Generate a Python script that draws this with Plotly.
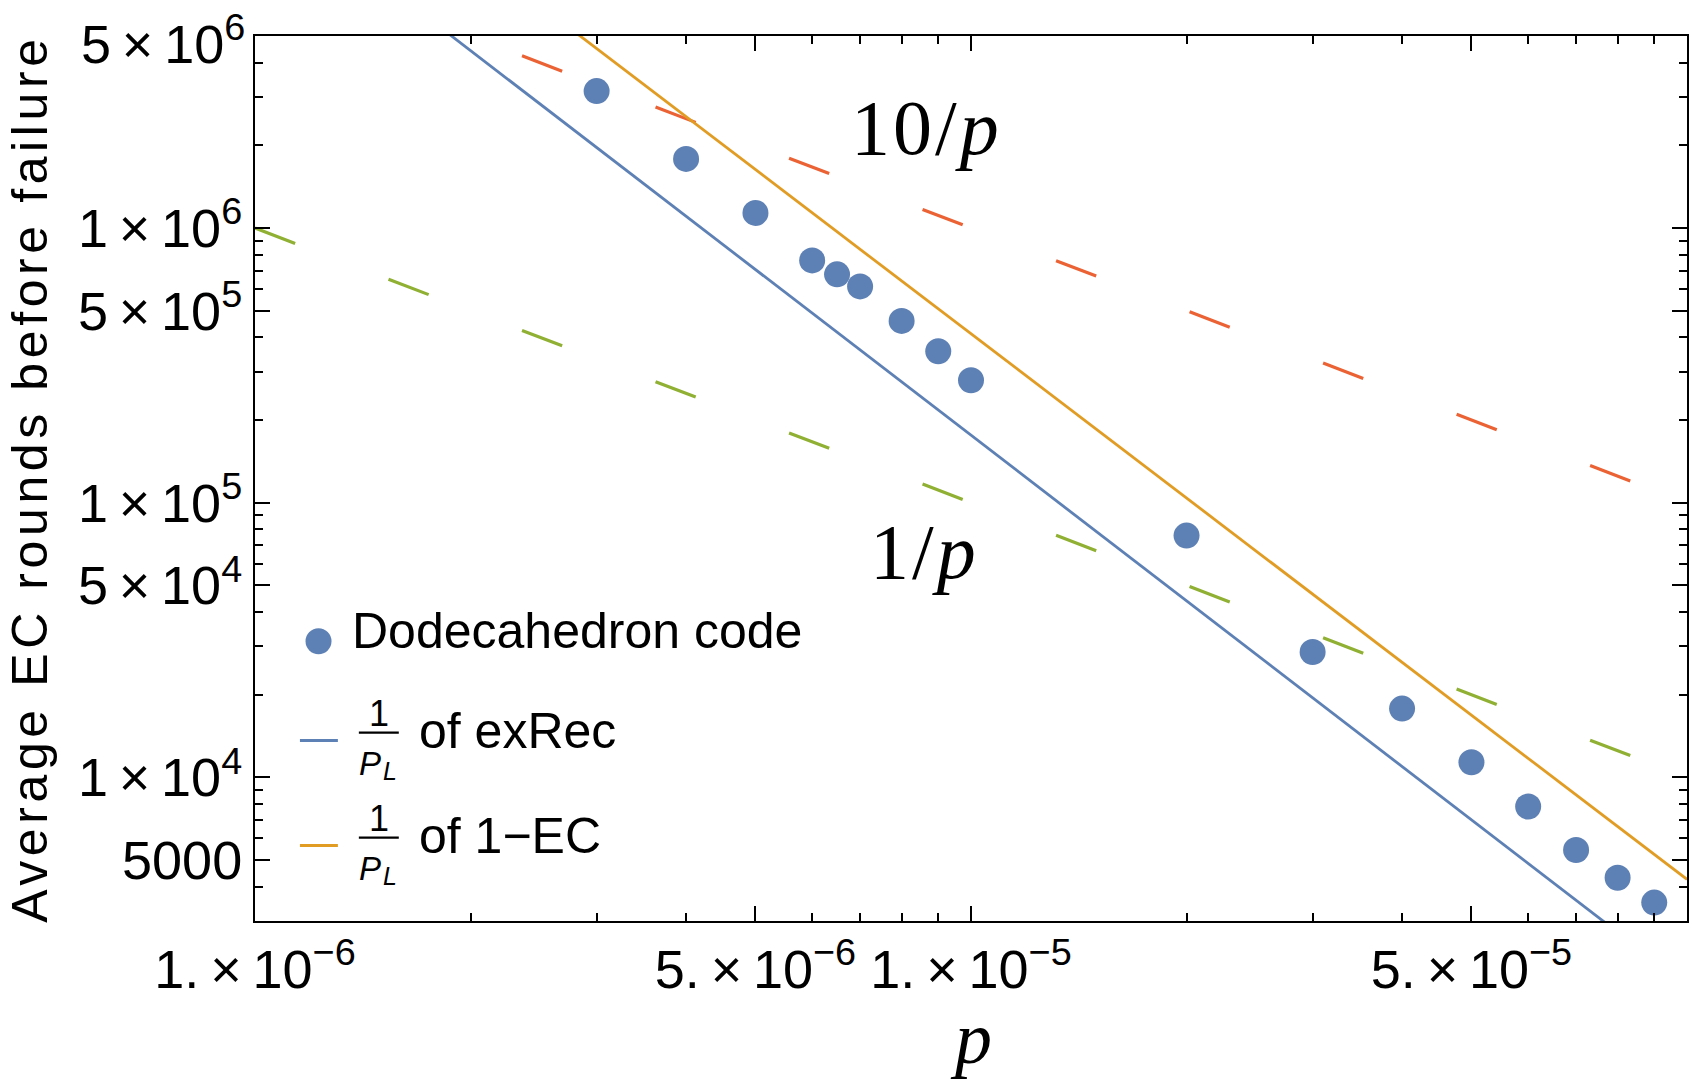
import plotly.graph_objects as go
import math

# ---------------- data ----------------
p_vals = [3e-6, 4e-6, 5e-6, 6e-6, 6.5e-6, 7e-6, 8e-6, 9e-6, 1e-5,
          2e-5, 3e-5, 4e-5, 5e-5, 6e-5, 7e-5, 8e-5, 9e-5]
rounds = [3.15e6, 1.785e6, 1.135e6, 7.62e5, 6.78e5, 6.13e5, 4.59e5, 3.56e5, 2.79e5,
          7.59e4, 2.86e4, 1.78e4, 1.135e4, 7.83e3, 5.44e3, 4.31e3, 3.50e3]

# straight reference lines (log-log), endpoints
p_line = [1e-6, 1e-4]
exrec_line = [1.774e7, 1747]      # 1/P_L of exRec
ec1_line = [3.99e7, 4253]         # 1/P_L of 1-EC
ten_over_p = [1e7, 1e5]           # 10/p
one_over_p = [1e6, 1e4]           # 1/p

# axis ticks
x_major = [1e-6, 5e-6, 1e-5, 5e-5]
x_major_text = ["1.\u2009×\u200910<sup>\u22126</sup>", "5.\u2009×\u200910<sup>\u22126</sup>",
                "1.\u2009×\u200910<sup>\u22125</sup>", "5.\u2009×\u200910<sup>\u22125</sup>"]
x_minor = [2e-6, 3e-6, 4e-6, 6e-6, 7e-6, 8e-6, 9e-6,
           2e-5, 3e-5, 4e-5, 6e-5, 7e-5, 8e-5, 9e-5]
y_major = [5000, 1e4, 5e4, 1e5, 5e5, 1e6, 5e6]
y_major_text = ["5000", "1\u2009×\u200910<sup>4</sup>", "5\u2009×\u200910<sup>4</sup>",
                "1\u2009×\u200910<sup>5</sup>", "5\u2009×\u200910<sup>5</sup>",
                "1\u2009×\u200910<sup>6</sup>", "5\u2009×\u200910<sup>6</sup>"]
y_minor = [3000, 4000, 6000, 7000, 8000, 9000, 2e4, 3e4, 4e4, 6e4, 7e4, 8e4, 9e4,
           2e5, 3e5, 4e5, 6e5, 7e5, 8e5, 9e5, 2e6, 3e6, 4e6]

# ---------------- style ----------------
BLUE = "#5E81B5"
ORANGE = "#E19C24"
GREEN = "#8FB032"
RED = "#EB6235"
SANS = "Liberation Sans, Arial, Helvetica, sans-serif"
SERIF = "Liberation Serif, Times New Roman, serif"

W, H = 1693, 1082
ML, MR, MT, MB = 255, 4, 36, 161
PW, PH = W - ML - MR, H - MT - MB


def px(xp):
    return (xp - ML) / PW


def py(yp):
    return (H - MB - yp) / PH


fig = go.Figure()

fig.add_trace(go.Scatter(x=p_line, y=ten_over_p, mode="lines",
                         line=dict(color=RED, width=3.2, dash="43px,100px"), showlegend=False))
fig.add_trace(go.Scatter(x=p_line, y=one_over_p, mode="lines",
                         line=dict(color=GREEN, width=3.2, dash="43px,100px"), showlegend=False))
fig.add_trace(go.Scatter(x=p_line, y=exrec_line, mode="lines",
                         line=dict(color=BLUE, width=2.8), showlegend=False))
fig.add_trace(go.Scatter(x=p_line, y=ec1_line, mode="lines",
                         line=dict(color=ORANGE, width=2.8), showlegend=False))
fig.add_trace(go.Scatter(x=p_vals, y=rounds, mode="markers",
                         marker=dict(color=BLUE, size=26, line=dict(width=0)),
                         showlegend=False))

axis_common = dict(
    type="log", showline=True, linecolor="black", linewidth=2, mirror="ticks",
    ticks="inside", ticklen=15, tickwidth=1.5, tickcolor="black",
    showgrid=False, zeroline=False, tickmode="array",
    tickfont=dict(family=SANS, size=54, color="black"),
)

# the top label sits below its tick in the reference (kept inside the picture),
# so the axis shows the tick and the label is placed as an annotation
y_axis_text = y_major_text[:-1] + [""]

fig.update_layout(
    width=W, height=H,
    margin=dict(l=ML, r=MR, t=MT, b=MB, pad=0),
    paper_bgcolor="white", plot_bgcolor="white",
    xaxis=dict(axis_common, range=[math.log10(1e-6) - 1e-6, math.log10(1e-4)],
               tickvals=x_major, ticktext=x_major_text,
               minor=dict(ticks="inside", ticklen=8, tickwidth=1.5, tickcolor="black",
                          tickmode="array", tickvals=x_minor, showgrid=False)),
    yaxis=dict(axis_common, range=[math.log10(3000), math.log10(5e6) + 1e-6],
               tickvals=y_major, ticktext=y_axis_text,
               minor=dict(ticks="inside", ticklen=8, tickwidth=1.5, tickcolor="black",
                          tickmode="array", tickvals=y_minor, showgrid=False)),
    showlegend=False,
)

ann = []
ann.append(dict(text=y_major_text[-1], x=px(247), y=py(40), xref="paper", yref="paper",
                xanchor="right", yanchor="middle", showarrow=False,
                font=dict(family=SANS, size=54, color="black")))
# axis titles
ann.append(dict(text='<span style="letter-spacing:4.6px">Average EC rounds before failure</span>',
                textangle=-90,
                x=px(29), y=py(478.5), xref="paper", yref="paper",
                xanchor="center", yanchor="middle", showarrow=False,
                font=dict(family=SANS, size=50, color="black")))
ann.append(dict(text="<i>p</i>", x=px(971.7), y=py(1038), xref="paper", yref="paper",
                xanchor="center", yanchor="middle", showarrow=False,
                font=dict(family=SERIF, size=74, color="black")))
# line labels
ann.append(dict(text='<span style="letter-spacing:3px">10/<i>p</i></span>',
                x=px(927.5), y=py(127.7), xref="paper", yref="paper",
                xanchor="center", yanchor="middle", showarrow=False,
                font=dict(family=SERIF, size=78, color="black")))
ann.append(dict(text='<span style="letter-spacing:3px">1/<i>p</i></span>',
                x=px(925.8), y=py(551.7), xref="paper", yref="paper",
                xanchor="center", yanchor="middle", showarrow=False,
                font=dict(family=SERIF, size=78, color="black")))

# ----- manual legend -----
shapes = []
shapes.append(dict(type="circle", xref="paper", yref="paper",
                   x0=px(318.6 - 13), x1=px(318.6 + 13), y0=py(641.3 + 13), y1=py(641.3 - 13),
                   fillcolor=BLUE, line=dict(width=0)))
ann.append(dict(text="Dodecahedron code", x=px(350), y=py(631), xref="paper", yref="paper",
                xanchor="left", yanchor="middle", showarrow=False,
                font=dict(family=SANS, size=50, color="black")))

legend_lines = [(BLUE, "of exRec"), (ORANGE, "of 1\u2212EC")]
for i, (col, label) in enumerate(legend_lines):
    off = 105 * i
    shapes.append(dict(type="line", xref="paper", yref="paper",
                       x0=px(300), x1=px(338), y0=py(740.5 + off), y1=py(740.5 + off),
                       line=dict(color=col, width=3.2)))
    shapes.append(dict(type="line", xref="paper", yref="paper",
                       x0=px(359), x1=px(399), y0=py(732.6 + off), y1=py(732.6 + off),
                       line=dict(color="black", width=2.2)))
    ann.append(dict(text="1", x=px(379), y=py(713 + off), xref="paper", yref="paper",
                    xanchor="center", yanchor="middle", showarrow=False,
                    font=dict(family=SANS, size=36, color="black")))
    ann.append(dict(text="<i>P</i>", x=px(370), y=py(763 + off), xref="paper", yref="paper",
                    xanchor="center", yanchor="middle", showarrow=False,
                    font=dict(family=SANS, size=33, color="black")))
    ann.append(dict(text="<i>L</i>", x=px(390), y=py(771 + off), xref="paper", yref="paper",
                    xanchor="center", yanchor="middle", showarrow=False,
                    font=dict(family=SANS, size=25, color="black")))
    ann.append(dict(text=label, x=px(417.5), y=py(731 + off), xref="paper", yref="paper",
                    xanchor="left", yanchor="middle", showarrow=False,
                    font=dict(family=SANS, size=50, color="black")))

fig.update_layout(annotations=ann, shapes=shapes)

fig.write_html("out.html", config={"displayModeBar": False},
               post_script="document.body.style.margin='0px';")
